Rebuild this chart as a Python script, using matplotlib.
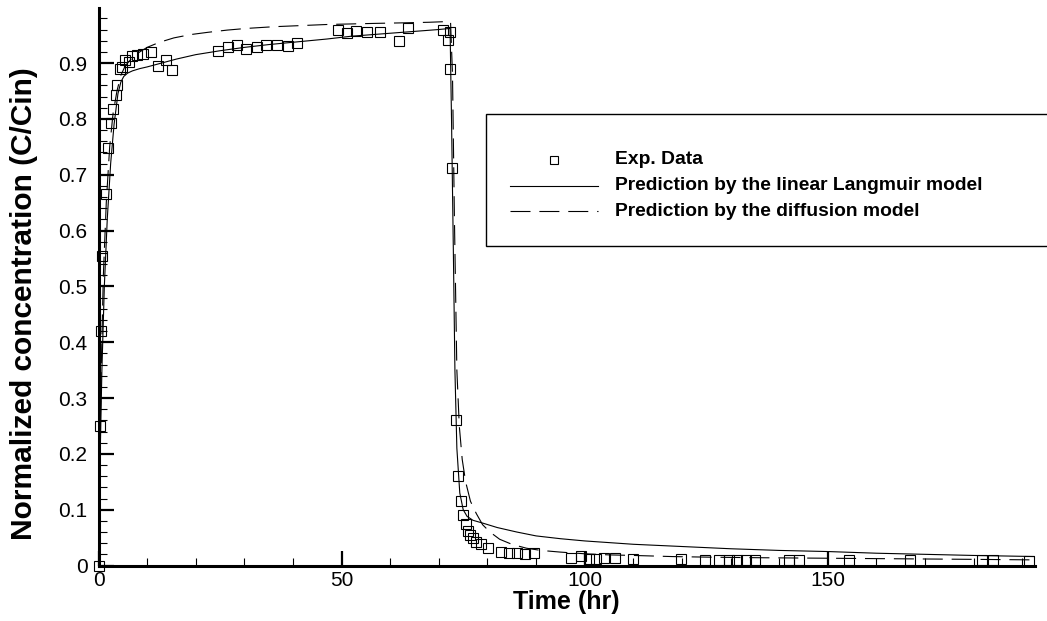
import numpy as np
import matplotlib as mpl
mpl.use('Agg')
import matplotlib.pyplot as plt
from matplotlib.ticker import MultipleLocator, FuncFormatter
from matplotlib.lines import Line2D
from matplotlib.patches import Rectangle

plt.rcParams['font.family'] = ['Liberation Sans', 'DejaVu Sans']

# experimental breakthrough / elution data
exp_t = [0, 0.3, 0.5, 0.8, 1.5, 1.9, 2.6, 3.0, 3.5, 3.9, 4.5, 4.9, 5.5, 6.2, 6.8,
         7.9, 9.2, 10.8, 12.3, 13.8, 15.2, 24.5, 26.6, 28.5, 30.4, 32.5, 34.4,
         36.8, 38.9, 40.9, 49.2, 51.1, 53.0, 55.3, 57.8, 61.9, 63.6, 70.8, 71.9,
         72.2, 72.3, 72.6, 73.6, 74.0, 74.5, 75.0, 75.5, 76.0, 76.5, 77.0, 77.7,
         78.6, 80.2, 82.8, 84.4, 86.1, 87.7, 89.5, 97.1, 99.2, 100.8, 102.4,
         103.9, 106.2, 109.9, 119.8, 124.7, 127.6, 129.7, 131.3, 133.2, 135.1,
         142.1, 144.0, 154.3, 166.9, 181.8, 183.9, 191.3]
exp_c = [0, 0.25, 0.42, 0.555, 0.666, 0.748, 0.793, 0.817, 0.843, 0.861, 0.89,
         0.892, 0.906, 0.901, 0.912, 0.915, 0.917, 0.919, 0.895, 0.906, 0.887,
         0.921, 0.929, 0.932, 0.925, 0.928, 0.932, 0.933, 0.931, 0.936, 0.959,
         0.954, 0.958, 0.955, 0.955, 0.94, 0.963, 0.959, 0.942, 0.955, 0.89,
         0.712, 0.26, 0.16, 0.116, 0.09, 0.074, 0.062, 0.054, 0.049, 0.042,
         0.038, 0.031, 0.025, 0.022, 0.022, 0.021, 0.023, 0.014, 0.017, 0.012,
         0.012, 0.013, 0.013, 0.012, 0.011, 0.01, 0.01, 0.01, 0.01, 0.01, 0.01,
         0.01, 0.01, 0.01, 0.009, 0.009, 0.009, 0.008]

# linear Langmuir model (solid)
lang_t = [0, 0.3, 0.7, 1.2, 1.8, 2.5, 3.2, 4.0, 4.6, 5.2, 6.0, 7.0, 8.5, 10, 13,
          16, 20, 25, 30, 35, 41, 47, 52, 58, 64, 70, 72.3, 72.6, 73.0, 73.3,
          73.7, 74.3, 75.0, 75.8, 77, 79, 82, 86, 90, 95, 100, 110, 120, 130,
          140, 150, 160, 170, 180, 193]
lang_c = [0, 0.18, 0.35, 0.5, 0.62, 0.72, 0.79, 0.845, 0.866, 0.876, 0.882,
          0.886, 0.89, 0.893, 0.9, 0.907, 0.915, 0.922, 0.928, 0.933, 0.938,
          0.943, 0.948, 0.952, 0.956, 0.96, 0.962, 0.8, 0.55, 0.35, 0.21, 0.13,
          0.1, 0.088, 0.081, 0.076, 0.068, 0.06, 0.053, 0.048, 0.044, 0.038,
          0.034, 0.03, 0.027, 0.025, 0.022, 0.02, 0.018, 0.016]

# diffusion model (dashed)
diff_t = [0, 0.2, 0.5, 1.0, 1.6, 2.3, 3.0, 3.8, 4.6, 5.5, 7, 8.5, 10, 12.5,
          15.5, 19, 22.5, 26.5, 30.5, 36, 41.5, 47, 52, 57, 63, 68, 71, 72.4,
          72.8, 73.2, 73.7, 74.2, 74.8, 75.5, 76.5, 77.7, 79, 80.5, 82.5, 85,
          88, 91, 95, 100, 105, 110, 118, 125, 135, 150, 165, 180, 193]
diff_c = [0, 0.15, 0.33, 0.52, 0.65, 0.75, 0.81, 0.85, 0.878, 0.895, 0.91,
          0.92, 0.928, 0.937, 0.945, 0.951, 0.955, 0.959, 0.962, 0.965, 0.967,
          0.969, 0.97, 0.971, 0.972, 0.973, 0.974, 0.974, 0.88, 0.62, 0.35,
          0.25, 0.19, 0.15, 0.115, 0.093, 0.073, 0.06, 0.047, 0.038, 0.031,
          0.027, 0.024, 0.021, 0.019, 0.018, 0.016, 0.015, 0.014, 0.013, 0.012,
          0.011, 0.01]

labels = ["Exp. Data", "Prediction by the linear Langmuir model",
          "Prediction by the diffusion model"]

W, H = 1047, 621
fig = plt.figure(figsize=(W / 100, H / 100), dpi=100)
ax = fig.add_axes([98.5 / W, 1 - 565.5 / H, (1035 - 98.5) / W, (565.5 - 8.3) / H])

dash = (0, (18, 8))
ax.plot(lang_t, lang_c, 'k-', lw=0.8)
ax.plot(diff_t, diff_c, color='k', lw=0.8, linestyle=dash)
ax.plot(exp_t, exp_c, 's', ms=7, mfc='none', mec='k', mew=0.8, clip_on=False)

ax.set_xlim(0, 192.6)
ax.set_ylim(0, 0.998)
for s in ['top', 'right']:
    ax.spines[s].set_visible(False)
for s in ['left', 'bottom']:
    ax.spines[s].set_linewidth(2.2)

ax.xaxis.set_major_locator(MultipleLocator(50))
ax.xaxis.set_minor_locator(MultipleLocator(10))
ax.yaxis.set_major_locator(MultipleLocator(0.1))
ax.yaxis.set_minor_locator(MultipleLocator(0.02))
ax.yaxis.set_major_formatter(FuncFormatter(lambda v, p: "0" if abs(v) < 1e-9 else "%.1f" % v))
ax.tick_params(which='major', direction='in', length=11, width=1.6, labelsize=15)
ax.tick_params(which='minor', direction='in', length=5.5, width=0.8)
ax.tick_params(axis='y', which='major', pad=8)
ax.tick_params(axis='x', which='major', pad=4)

ax.set_xlabel("Time (hr)", fontsize=18, fontweight='bold', labelpad=0)
ax.set_ylabel("Normalized concentration (C/Cin)", fontsize=21.5, fontweight='bold')
ax.yaxis.set_label_coords(-60 / 936.5, 0.47)

# legend box, drawn in figure pixels
fig.add_artist(Rectangle((486 / W, 1 - 246 / H), (W - 480) / W, 132 / H,
                         transform=fig.transFigure, facecolor='white',
                         edgecolor='k', lw=1.0, clip_on=False))
rows = [159.5, 186, 211]
fig.add_artist(Line2D([554 / W], [1 - rows[0] / H], marker='s', ms=5.5, mfc='none',
                      mec='k', mew=0.8, transform=fig.transFigure))
fig.add_artist(Line2D([510 / W, 598 / W], [1 - rows[1] / H] * 2, color='k', lw=0.8,
                      transform=fig.transFigure))
fig.add_artist(Line2D([510 / W, 598 / W], [1 - rows[2] / H] * 2, color='k', lw=0.8,
                      linestyle=dash, transform=fig.transFigure))
for r, lab in zip(rows, labels):
    fig.text(615 / W, 1 - r / H, lab, fontsize=13.9, fontweight='bold', va='center', ha='left')

plt.savefig("out.png", dpi=100)
